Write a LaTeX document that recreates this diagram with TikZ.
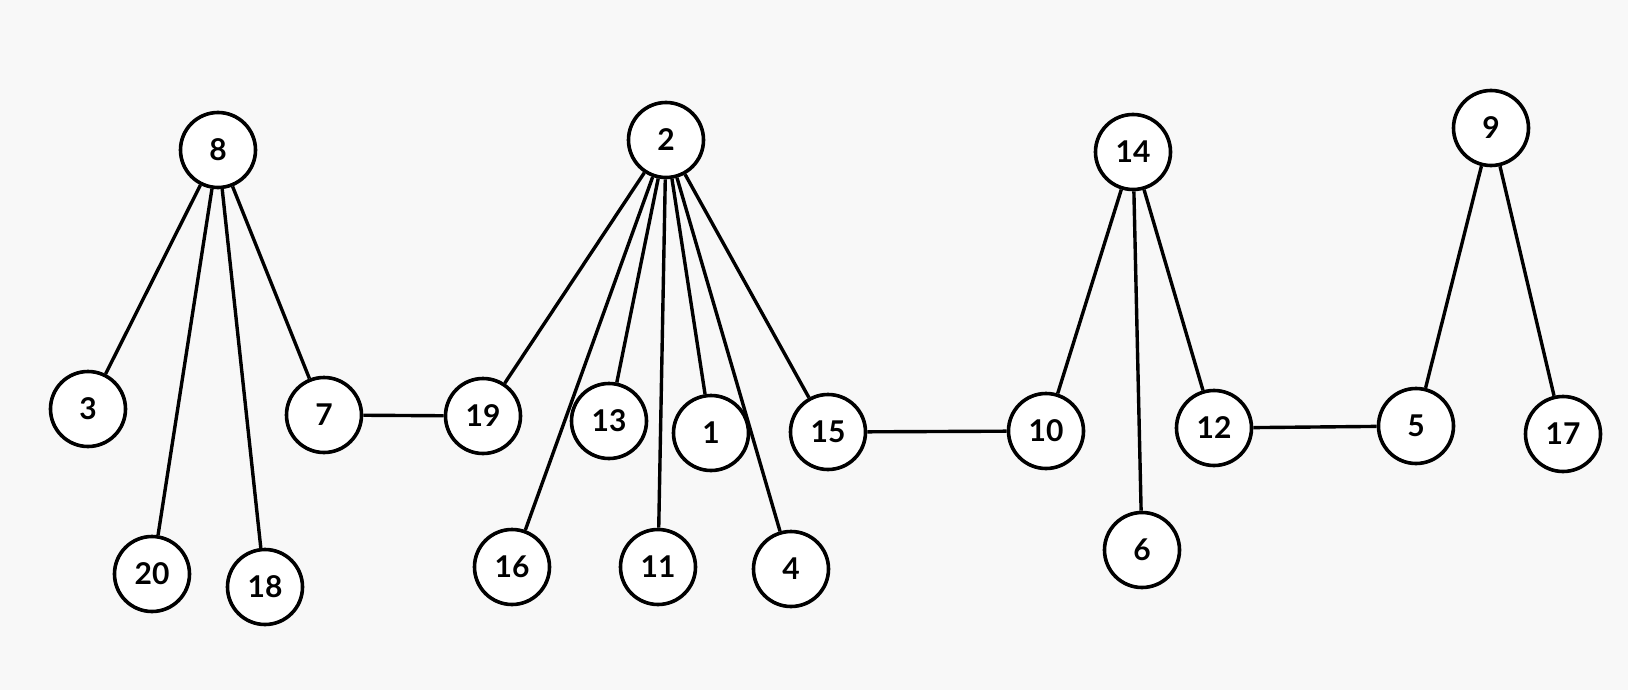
\documentclass[tikz,border=0pt]{standalone}
\usepackage{fontspec}
\setmainfont{Lato}
\begin{document}
\begin{tikzpicture}[x=0.5pt,y=-0.5pt,
  vtx/.style={circle,draw=black,fill=white,line width=1.8pt,minimum size=37.5pt,inner sep=0pt,font=\fontsize{15pt}{18pt}\selectfont\bfseries},
  edge/.style={draw=black,line width=1.7pt}]
\fill[fill={rgb,255:red,248;green,248;blue,248}] (0,0) rectangle (1628,690);
\useasboundingbox (0,0) rectangle (1628,690);
\node[vtx] (n8) at (218,150) {8};
\node[vtx] (n2) at (666,140) {2};
\node[vtx] (n14) at (1133,152) {14};
\node[vtx] (n9) at (1491,128) {9};
\node[vtx] (n3) at (88,409) {3};
\node[vtx] (n7) at (324,415) {7};
\node[vtx] (n19) at (483,416) {19};
\node[vtx] (n13) at (609,421) {13};
\node[vtx] (n1) at (711,433) {1};
\node[vtx] (n15) at (828,432) {15};
\node[vtx] (n10) at (1046,431) {10};
\node[vtx] (n12) at (1214,428) {12};
\node[vtx] (n5) at (1416,426) {5};
\node[vtx] (n17) at (1563,434) {17};
\node[vtx] (n20) at (152,574) {20};
\node[vtx] (n18) at (265,587) {18};
\node[vtx] (n16) at (512,567) {16};
\node[vtx] (n11) at (658,567) {11};
\node[vtx] (n4) at (791,569) {4};
\node[vtx] (n6) at (1142,550) {6};
\path[edge] (n8) -- (n3) (n8) -- (n20) (n8) -- (n18) (n8) -- (n7)
  (n7) -- (n19) (n2) -- (n19) (n2) -- (n16) (n2) -- (n13) (n2) -- (n11)
  (n2) -- (n1) (n2) -- (n4) (n2) -- (n15) (n15) -- (n10)
  (n14) -- (n10) (n14) -- (n6) (n14) -- (n12) (n12) -- (n5)
  (n9) -- (n5) (n9) -- (n17);
\end{tikzpicture}
\end{document}
